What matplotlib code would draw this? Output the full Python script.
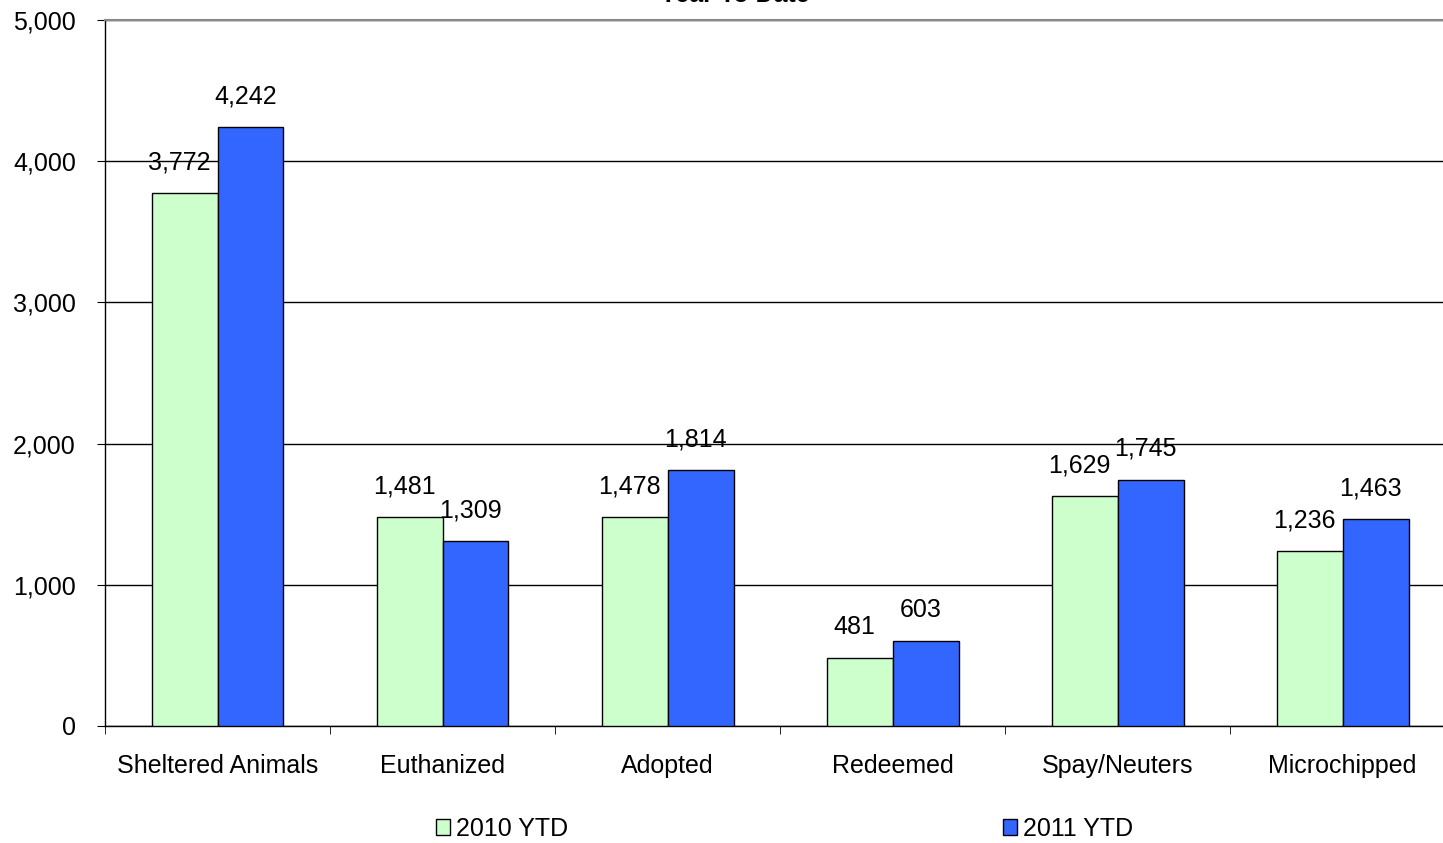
import matplotlib.pyplot as plt
import numpy as np

plt.rcParams['font.family'] = ['Liberation Sans', 'DejaVu Sans']

categories = ['Sheltered Animals', 'Euthanized', 'Adopted', 'Redeemed',
              'Spay/Neuters', 'Microchipped']
ytd_2010 = [3772, 1481, 1478, 481, 1629, 1236]
ytd_2011 = [4242, 1309, 1814, 603, 1745, 1463]
series_names = ['2010 YTD', '2011 YTD']
colors = ['#CCFFCC', '#3366FF']

fig = plt.figure(figsize=(14.43, 8.43), dpi=100)
# plot area runs a little past the right edge, like the original
ax = fig.add_axes([0.0728, 0.1388, 0.9356, 0.8375])

x = np.arange(len(categories))
w = 0.293
bars1 = ax.bar(x - w / 2, ytd_2010, w, color=colors[0], edgecolor='black', linewidth=1.0,
               label=series_names[0], zorder=3)
bars2 = ax.bar(x + w / 2, ytd_2011, w, color=colors[1], edgecolor='black', linewidth=1.0,
               label=series_names[1], zorder=3)

for bars in (bars1, bars2):
    for b in bars:
        ax.annotate(f'{int(b.get_height()):,}', (b.get_x() + b.get_width() / 2, b.get_height()),
                    xytext=(-3.5, 13.5), textcoords='offset points', ha='center', va='bottom',
                    fontsize=18)

ax.set_xlim(-0.5, len(categories) - 0.5)
ax.set_ylim(0, 5000)
ax.set_yticks(range(0, 5001, 1000))
ax.set_yticklabels([f'{v:,}' for v in range(0, 5001, 1000)], fontsize=18)
ax.yaxis.grid(True, color='black', linewidth=1)
ax.set_axisbelow(True)

ax.set_xticks(x)
ax.set_xticklabels(categories, fontsize=18)
ax.set_xticks(np.arange(-0.5, len(categories), 1), minor=True)
ax.tick_params(axis='x', which='major', length=0, pad=20)
ax.tick_params(axis='x', which='minor', length=5.5, direction='out', color='black')
ax.tick_params(axis='y', length=6, direction='out', color='black', pad=15)

ax.spines['right'].set_visible(False)
ax.spines['top'].set_color('#888888')
ax.spines['top'].set_linewidth(1.5)
ax.spines['left'].set_linewidth(1.0)
ax.spines['bottom'].set_linewidth(1.0)

fig.text(0.509, 1 - 2 / 843, 'Year To Date', ha='center', va='baseline', fontsize=18,
         fontweight='bold')

fig.legend(handles=[bars1, bars2], labels=series_names, loc='center', ncol=2,
           bbox_to_anchor=(0.544, 0.0166), frameon=False, fontsize=18,
           handlelength=0.56, handleheight=0.64, handletextpad=0.24, columnspacing=17.4,
           borderpad=0, borderaxespad=0)

plt.savefig('out.png', dpi=100)
plt.close()
